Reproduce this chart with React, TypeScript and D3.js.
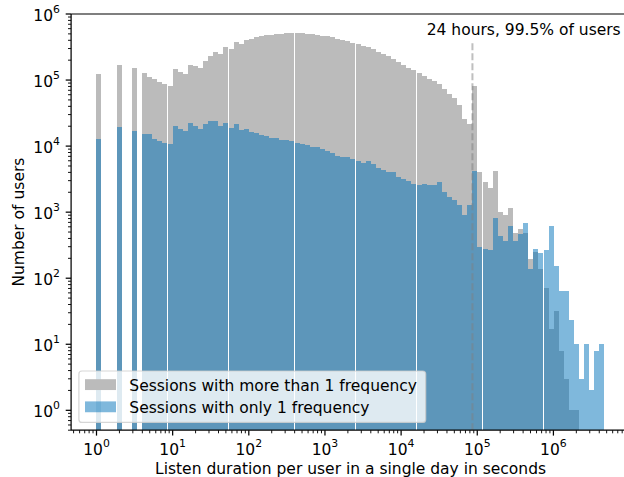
import React from 'react';
import * as d3 from 'd3';

const WIDTH = 624;
const HEIGHT = 477;

// Histogram binning: 100 log-spaced bins from 1 s to the longest duration
const MAX_SECONDS = 4.7e6;
const BIN_COUNT = 100;
const DAY_SECONDS = 86400;

// Users per bin, sessions with more than one frequency
const multiFrequencyCounts = [
  1.24e5, 0, 0, 0, 1.69e5, 0, 0, 1.53e5, 0, 1.28e5,
  1.12e5, 1.04e5, 9.4e4, 8.7e4, 8.2e4, 1.47e5, 1.33e5, 1.24e5, 1.69e5, 1.64e5,
  1.53e5, 1.95e5, 2.32e5, 2.66e5, 2.49e5, 3.17e5, 2.96e5, 3.77e5, 3.52e5, 4.04e5,
  4.19e5, 4.49e5, 4.65e5, 4.81e5, 4.81e5, 4.98e5, 4.98e5, 5.16e5, 5.16e5, 5.16e5,
  5.16e5, 4.98e5, 4.98e5, 4.81e5, 4.65e5, 4.65e5, 4.49e5, 4.19e5, 4.04e5, 3.9e5,
  3.64e5, 3.52e5, 3.28e5, 3.17e5, 2.96e5, 2.66e5, 2.49e5, 2.32e5, 2.09e5, 1.88e5,
  1.69e5, 1.53e5, 1.42e5, 1.28e5, 1.16e5, 1.04e5, 9.7e4, 8.7e4, 7.3e4, 6.2e4,
  5.4e4, 4.2e4, 2.59e4, 2.17e4, 8.2e4, 4100, 2900, 2340, 4200, 1020,
  916, 1170, 490, 563, 490, 198, 253, 140, 72, 17,
  32, 8, 3, 1, 1, 0, 0, 0, 0, 0,
];

// Users per bin, sessions with only one frequency
const singleFrequencyCounts = [
  1.29e4, 0, 0, 0, 1.96e4, 0, 0, 1.71e4, 0, 1.53e4,
  1.53e4, 1.29e4, 1.2e4, 1.12e4, 1.08e4, 2.03e4, 1.83e4, 1.71e4, 2.25e4, 2.03e4,
  1.83e4, 2.17e4, 2.41e4, 2.41e4, 2.03e4, 2.25e4, 1.89e4, 2.17e4, 1.77e4, 1.83e4,
  1.65e4, 1.59e4, 1.48e4, 1.43e4, 1.34e4, 1.34e4, 1.25e4, 1.25e4, 1.2e4, 1.12e4,
  1.08e4, 1.05e4, 9800, 9800, 9100, 8500, 7900, 7100, 6900, 6900,
  6400, 6000, 5600, 6000, 5400, 4700, 4400, 4100, 4100, 3400,
  3200, 3000, 2700, 2600, 2700, 2600, 2600, 2900, 2000, 1700,
  1550, 1300, 916, 1300, 4200, 301, 281, 271, 826, 441,
  371, 625, 371, 473, 694, 140, 281, 244, 271, 625,
  155, 63, 63, 23.7, 10, 3, 10, 2, 8, 10,
];

const xTickExponents = [0, 1, 2, 3, 4, 5, 6];
const yTickExponents = [0, 1, 2, 3, 4, 5, 6];
const seriesLabels = [
  'Sessions with more than 1 frequency',
  'Sessions with only 1 frequency',
];
const annotationText = '24 hours, 99.5% of users';
const xAxisLabel = 'Listen duration per user in a single day in seconds';
const yAxisLabel = 'Number of users';

const FONT = '"DejaVu Sans", sans-serif';
const FS = 15.5;
const SUP_FS = FS * 0.7;
const GRAY = '#bbbbbb';
const BLUE = '#0072ba';

const plot = { left: 71.1, right: 630, top: 14, bottom: 430.2 };

export default function App() {
  const logMax = Math.log10(MAX_SECONDS);
  const xScale = d3
    .scaleLog()
    .domain([Math.pow(10, -0.05 * logMax), Math.pow(10, 1.05 * logMax)])
    .range([plot.left, plot.right]);
  const yScale = d3.scaleLog().domain([0.5, 1e6]).range([plot.bottom, plot.top]);

  const edges = d3.range(BIN_COUNT + 1).map((i) => Math.pow(10, (i * logMax) / BIN_COUNT));
  const binPx = xScale(edges[1]) - xScale(edges[0]);
  const barW = Math.floor(binPx);
  // pixel-snapped bar left edges
  const snapLeft = (v: number) => Math.floor(xScale(v) + 0.411);

  const bars = (counts: number[]) =>
    counts
      .map((c, i) => ({ c, i }))
      .filter((d) => d.c > 0)
      .map(({ c, i }) => {
        const y = yScale(c);
        return { x: snapLeft(edges[i]), y, h: plot.bottom - y, key: i };
      });

  const grayBars = bars(multiFrequencyCounts);
  const blueBars = bars(singleFrequencyCounts);

  const [xd0, xd1] = xScale.domain();
  const xMinor: number[] = [];
  for (let e = -1; e <= 7; e++) {
    for (let m = 2; m <= 9; m++) {
      const v = m * Math.pow(10, e);
      if (v >= xd0 && v <= xd1) xMinor.push(v);
    }
  }
  const yMinor: number[] = [];
  for (let e = -1; e <= 5; e++) {
    for (let m = 2; m <= 9; m++) {
      const v = m * Math.pow(10, e);
      if (v >= 0.5 && v <= 1e6) yMinor.push(v);
    }
  }

  const majorLen = 5.4;
  const minorLen = 3.1;
  const dayX = xScale(DAY_SECONDS);
  const dayTop = plot.bottom - 0.933 * (plot.bottom - plot.top);

  const legend = { x: 78.9, y: 371, w: 346.8, h: 51.4 };
  const rowBaselines = [390.5, 412.5];
  const handleTops = [379.2, 401.4];

  return (
    <svg
      width={WIDTH}
      height={HEIGHT}
      style={{ position: 'absolute', left: 0, top: 0, background: '#fff' }}
      fontFamily={FONT}
    >
      <rect x={0} y={0} width={WIDTH} height={HEIGHT} fill="#fff" />
      <g shapeRendering="crispEdges">
        {grayBars.map((b) => (
          <rect key={'g' + b.key} x={b.x} y={b.y} width={barW} height={b.h} fill={GRAY} />
        ))}
        {blueBars.map((b) => (
          <rect
            key={'b' + b.key}
            x={b.x}
            y={b.y}
            width={barW}
            height={b.h}
            fill={BLUE}
            fillOpacity={0.5}
          />
        ))}
      </g>

      <line
        x1={dayX}
        x2={dayX}
        y1={plot.bottom}
        y2={dayTop}
        stroke="#808080"
        strokeOpacity={0.5}
        strokeWidth={2}
        strokeDasharray="7,3"
      />
      <text x={426.7} y={35} fontSize={FS} fill="#000">
        {annotationText}
      </text>

      {/* spines */}
      <line x1={plot.left} x2={plot.left} y1={plot.top} y2={plot.bottom} stroke="#000" strokeWidth={1.24} />
      <line x1={plot.left} x2={plot.right} y1={plot.bottom} y2={plot.bottom} stroke="#000" strokeWidth={1.24} />
      <line x1={plot.left} x2={plot.right} y1={plot.top} y2={plot.top} stroke="#000" strokeWidth={1.24} />

      {/* x ticks */}
      {xMinor.map((v) => (
        <line key={'xm' + v} x1={xScale(v)} x2={xScale(v)} y1={plot.bottom} y2={plot.bottom + minorLen} stroke="#000" strokeWidth={0.93} />
      ))}
      {xTickExponents.map((e) => {
        const x = xScale(Math.pow(10, e));
        return (
          <g key={'xt' + e}>
            <line x1={x} x2={x} y1={plot.bottom} y2={plot.bottom + majorLen} stroke="#000" strokeWidth={1.24} />
            <text x={x} y={454.6} textAnchor="middle" fontSize={FS}>
              <tspan>10</tspan>
              <tspan dy={-7.8} fontSize={SUP_FS}>{e}</tspan>
            </text>
          </g>
        );
      })}

      {/* y ticks */}
      {yMinor.map((v) => (
        <line key={'ym' + v} x1={plot.left - minorLen} x2={plot.left} y1={yScale(v)} y2={yScale(v)} stroke="#000" strokeWidth={0.93} />
      ))}
      {yTickExponents.map((e) => {
        const y = yScale(Math.pow(10, e));
        return (
          <g key={'yt' + e}>
            <line x1={plot.left - majorLen} x2={plot.left} y1={y} y2={y} stroke="#000" strokeWidth={1.24} />
            <text x={60} y={y + 6.7} textAnchor="end" fontSize={FS}>
              <tspan>10</tspan>
              <tspan dy={-7.6} fontSize={SUP_FS}>{e}</tspan>
            </text>
          </g>
        );
      })}

      <text x={(plot.left + plot.right) / 2} y={474.3} textAnchor="middle" fontSize={FS}>
        {xAxisLabel}
      </text>
      <text
        transform={`translate(24,${(plot.top + plot.bottom) / 2}) rotate(-90)`}
        textAnchor="middle"
        fontSize={FS}
      >
        {yAxisLabel}
      </text>

      {/* legend */}
      <rect
        x={legend.x}
        y={legend.y}
        width={legend.w}
        height={legend.h}
        rx={3}
        fill="#fff"
        fillOpacity={0.8}
        stroke="#cccccc"
        strokeOpacity={0.8}
        strokeWidth={1.24}
      />
      {seriesLabels.map((label, i) => (
        <g key={label}>
          <rect
            x={85}
            y={handleTops[i]}
            width={31}
            height={10.85}
            fill={i === 0 ? GRAY : BLUE}
            fillOpacity={i === 0 ? 1 : 0.5}
          />
          <text x={129.3} y={rowBaselines[i]} fontSize={FS}>
            {label}
          </text>
        </g>
      ))}
    </svg>
  );
}
